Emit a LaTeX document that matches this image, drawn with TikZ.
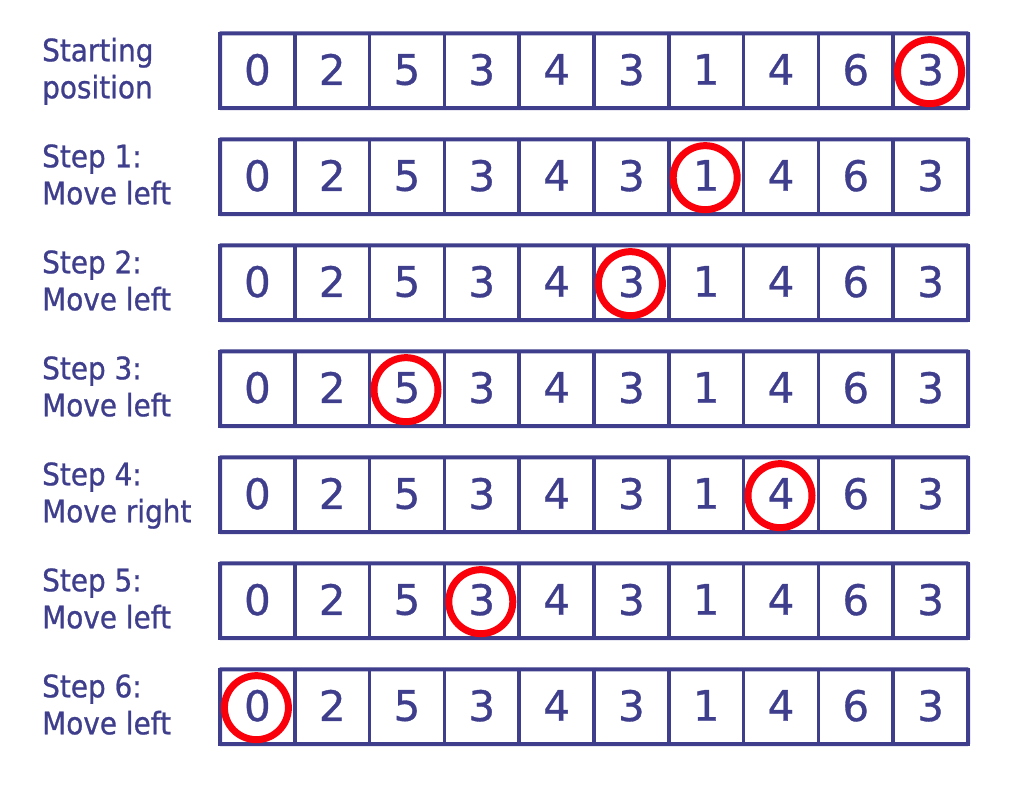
\documentclass[tikz,border=0pt]{standalone}
\usepackage{fontspec}
\setmainfont{DejaVu Sans}[FakeBold=0.8]
\newfontfamily\digitfont{DejaVu Sans}[FakeBold=0.8]
\newfontfamily\labelfont{DejaVu Sans}[FakeStretch=0.9,FakeBold=0.8]
\definecolor{ink}{RGB}{62,62,140}
\definecolor{markred}{RGB}{250,0,10}
\begin{document}
\begin{tikzpicture}[x=1pt,y=-1pt,
  cellbox/.style={draw=ink, line width=3.5pt, minimum width=74.8pt, minimum height=74.7pt,
    inner sep=0pt, outer sep=0pt, text=ink, font=\digitfont\fontsize{42}{42}\selectfont},
  rowframe/.style={draw=ink, line width=4pt, rounded corners=1pt},
  markring/.style={circle, draw=markred, line width=7pt, minimum size=64pt, inner sep=0pt},
  labeltext/.style={anchor=base west, inner sep=0pt, text=ink, font=\labelfont\fontsize{31}{37}\selectfont}]
\useasboundingbox (0,0) rectangle (1020,788);
\foreach \rw/\la/\lb/\ci in {0/Starting/position/10, 1/Step 1:/Move left/7, 2/Step 2:/Move left/6,
    3/Step 3:/Move left/3, 4/Step 4:/Move right/8, 5/Step 5:/Move left/4, 6/Step 6:/Move left/1}{
  \foreach \d [count=\k] in {0,2,5,3,4,3,1,4,6,3}{
    \node[cellbox] (c\rw-\k) at ({220+74.8*(\k-0.5)}, {33.3+106*\rw+37.35}) {\raisebox{2.5pt}{\d}};
  }
  \draw[rowframe] (c\rw-1.north west) rectangle (c\rw-10.south east);
  \node[markring] (m\rw) at ([shift={(-1,1)}]c\rw-\ci.center) {};
  \node[labeltext] (l\rw) at (42, {33.3+106*\rw+28}) {\begin{tabular}[t]{@{}l@{}}\la\\\lb\end{tabular}};
}
\end{tikzpicture}
\end{document}
